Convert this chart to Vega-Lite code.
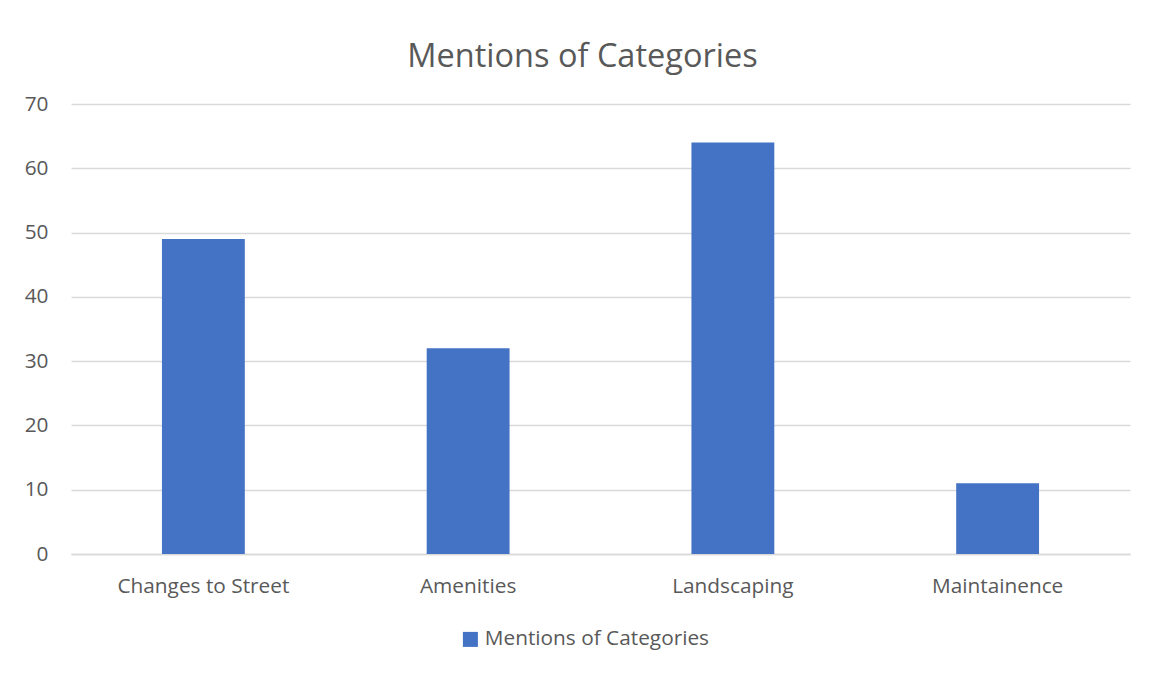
{
  "$schema": "https://vega.github.io/schema/vega-lite/v6.json",
  "autosize": {"type": "none"},
  "width": 1059,
  "height": 450,
  "padding": {"left": 71, "top": 104, "right": 24, "bottom": 121},
  "background": "white",
  "title": {
    "text": "Mentions of Categories",
    "fontSize": 32.5,
    "font": "Open Sans",
    "fontWeight": "normal",
    "color": "#595959",
    "offset": 20,
    "dx": -18,
    "anchor": "middle"
  },
  "data": {
    "values": [
      {"category": "Changes to Street", "mentions": 49, "series": "Mentions of Categories"},
      {"category": "Amenities", "mentions": 32, "series": "Mentions of Categories"},
      {"category": "Landscaping", "mentions": 64, "series": "Mentions of Categories"},
      {"category": "Maintainence", "mentions": 11, "series": "Mentions of Categories"}
    ]
  },
  "mark": {"type": "bar"},
  "encoding": {
    "x": {
      "field": "category",
      "type": "nominal",
      "sort": null,
      "scale": {"paddingInner": 0.687, "paddingOuter": 0.3435},
      "axis": {
        "title": null,
        "labelAngle": 0,
        "labelFontSize": 20.8,
        "labelFont": "Open Sans",
        "labelColor": "#595959",
        "labelPadding": 22,
        "labelLimit": 400,
        "ticks": false,
        "domainColor": "#D9D9D9",
        "domainWidth": 1.3
      }
    },
    "y": {
      "field": "mentions",
      "type": "quantitative",
      "scale": {"domain": [0, 70]},
      "axis": {
        "title": null,
        "values": [0, 10, 20, 30, 40, 50, 60, 70],
        "labelFontSize": 20.8,
        "labelFont": "Open Sans",
        "labelColor": "#595959",
        "labelPadding": 23,
        "ticks": false,
        "domain": false,
        "gridColor": "#D9D9D9",
        "gridWidth": 1.3
      }
    },
    "color": {
      "field": "series",
      "type": "nominal",
      "scale": {"range": ["#4472C4"]},
      "legend": {
        "title": null,
        "orient": "none",
        "legendX": 389,
        "legendY": 525,
        "direction": "horizontal",
        "symbolType": "square",
        "symbolSize": 225,
        "symbolStrokeWidth": 0,
        "labelFontSize": 20.8,
        "labelFont": "Open Sans",
        "labelColor": "#595959",
        "labelOffset": 4,
        "labelLimit": 400
      }
    }
  },
  "config": {
    "view": {"stroke": null}
  }
}
